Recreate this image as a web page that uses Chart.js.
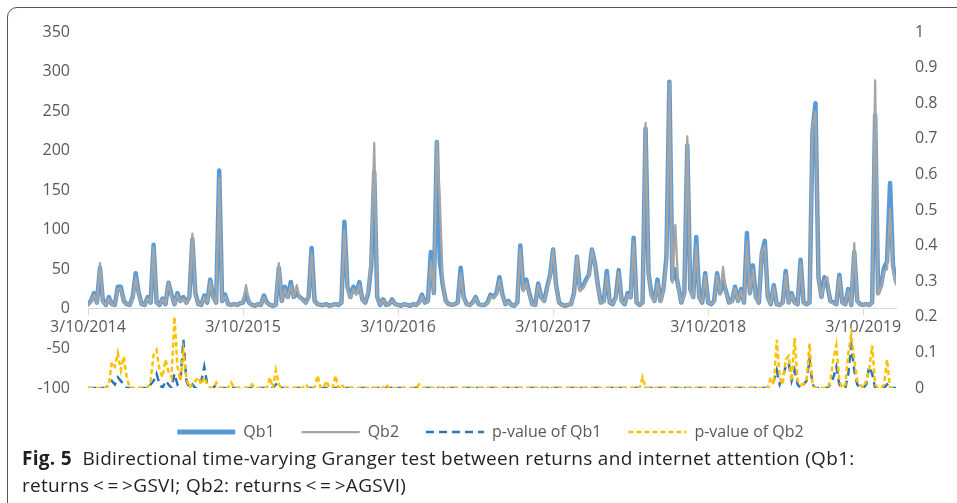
<!DOCTYPE html>
<html>
<head>
<meta charset="utf-8">
<script src="https://cdn.jsdelivr.net/npm/chart.js@4.4.1/dist/chart.umd.min.js"></script>
<style>
  html, body { margin: 0; padding: 0; background: #fff; }
  body { width: 957px; height: 503px; position: relative; overflow: hidden; }
  #frame { position: absolute; left: 7px; top: 7px; width: 1000px; height: 600px; border: 1px solid #555; border-top-left-radius: 10px; box-sizing: border-box; }
  #chart { position: absolute; left: 0; top: 0; }
  #caption { position: absolute; left: 22px; top: 445px; width: 930px; font: 19px/27px "Open Sans", "Noto Sans", sans-serif; letter-spacing: 0.3px; color: #231f20; white-space: nowrap; }
  #caption b { font-weight: 700; }
</style>
</head>
<body>
<div id="frame"></div>
<canvas id="chart" width="957" height="455"></canvas>
<div id="caption"><b>Fig. 5</b>&nbsp; Bidirectional time-varying Granger test between returns and internet attention (Qb1:<br>returns&thinsp;&lt;&thinsp;=&thinsp;&gt;GSVI; Qb2: returns&thinsp;&lt;&thinsp;=&thinsp;&gt;AGSVI)</div>
<script>
// weekly values, 3/10/2014 onwards
const qb1 = [
  6, 10, 20, 8, 52, 10, 5, 15, 6, 5, 28, 28, 10, 6, 5, 15, 45, 20, 6, 5,
  15, 8, 81, 8, 5, 13, 6, 33, 18, 6, 20, 10, 15, 8, 15, 88, 20, 6, 5, 17,
  8, 37, 15, 8, 175, 10, 18, 6, 5, 6, 5, 7, 8, 20, 8, 5, 4, 6, 5, 17,
  8, 5, 4, 5, 52, 10, 28, 15, 34, 15, 20, 15, 12, 8, 15, 77, 10, 6, 5, 5,
  6, 4, 5, 6, 5, 8, 110, 28, 15, 28, 20, 34, 12, 8, 20, 55, 173, 15, 5, 12,
  5, 6, 12, 6, 5, 4, 6, 5, 4, 6, 5, 8, 18, 8, 10, 72, 20, 211, 60, 30,
  10, 6, 5, 6, 8, 52, 15, 6, 5, 8, 15, 6, 5, 5, 8, 18, 15, 20, 40, 18,
  6, 10, 5, 4, 8, 80, 25, 37, 20, 6, 5, 32, 15, 10, 28, 43, 75, 30, 8, 5,
  4, 5, 6, 20, 66, 25, 28, 37, 43, 75, 58, 30, 8, 10, 48, 8, 6, 15, 49, 10,
  6, 20, 15, 90, 8, 5, 8, 228, 45, 18, 10, 37, 10, 25, 66, 287, 37, 50, 28, 8,
  20, 207, 25, 15, 91, 15, 8, 45, 8, 6, 10, 45, 20, 35, 22, 8, 10, 28, 10, 25,
  8, 96, 20, 55, 15, 8, 70, 86, 15, 6, 30, 6, 5, 8, 48, 8, 20, 8, 6, 62,
  8, 6, 8, 225, 260, 40, 15, 40, 30, 10, 8, 6, 43, 8, 6, 25, 5, 72, 10, 6,
  5, 6, 5, 8, 245, 20, 30, 52, 60, 159, 55, 35
];
const qb2 = [
  5, 9, 18, 7, 58, 9, 5, 13, 6, 5, 25, 26, 9, 6, 5, 13, 40, 18, 6, 5,
  13, 8, 78, 7, 5, 12, 6, 33, 16, 6, 18, 9, 13, 7, 14, 95, 18, 6, 5, 15,
  8, 35, 14, 7, 165, 10, 16, 6, 5, 6, 5, 7, 8, 30, 8, 5, 4, 6, 5, 15,
  7, 5, 4, 5, 58, 9, 25, 14, 30, 14, 30, 14, 11, 7, 14, 70, 9, 6, 5, 5,
  6, 4, 5, 6, 5, 8, 100, 25, 14, 25, 18, 30, 11, 8, 22, 62, 210, 14, 5, 11,
  5, 6, 11, 6, 5, 4, 6, 5, 4, 6, 5, 7, 16, 8, 9, 60, 20, 211, 137, 35,
  9, 6, 5, 6, 7, 45, 13, 6, 5, 7, 14, 6, 5, 5, 7, 16, 14, 18, 36, 16,
  6, 9, 5, 4, 7, 75, 22, 33, 18, 6, 5, 30, 14, 9, 26, 40, 75, 28, 7, 5,
  4, 5, 6, 18, 66, 22, 26, 33, 40, 75, 55, 28, 8, 9, 42, 8, 6, 13, 46, 9,
  6, 18, 13, 85, 8, 5, 8, 235, 42, 16, 9, 33, 9, 22, 60, 285, 33, 106, 25, 8,
  18, 218, 22, 14, 80, 14, 8, 42, 8, 6, 9, 42, 18, 53, 20, 8, 9, 26, 9, 23,
  8, 85, 18, 50, 14, 8, 72, 80, 14, 6, 28, 6, 5, 7, 44, 7, 18, 7, 6, 58,
  7, 6, 8, 230, 250, 38, 14, 35, 40, 9, 7, 6, 40, 7, 6, 23, 5, 83, 9, 6,
  5, 6, 5, 8, 289, 18, 28, 48, 50, 126, 50, 30
];
const pQb1 = [
  0, 0, 0, 0, 0, 0, 0, 0.01, 0.02, 0.01, 0.03, 0.02, 0.01, 0, 0, 0, 0, 0, 0, 0,
  0, 0.01, 0.02, 0.04, 0.01, 0, 0.02, 0.01, 0, 0.04, 0.01, 0.02, 0.135, 0.02, 0, 0.01, 0, 0.01, 0.02, 0.06,
  0.01, 0, 0, 0.01, 0, 0, 0, 0, 0, 0, 0, 0, 0, 0, 0, 0, 0, 0, 0, 0,
  0, 0, 0, 0.01, 0, 0, 0, 0, 0, 0, 0, 0, 0, 0, 0, 0, 0, 0, 0, 0,
  0, 0, 0, 0, 0, 0, 0, 0, 0, 0, 0, 0, 0, 0, 0, 0, 0, 0, 0, 0,
  0, 0, 0, 0, 0, 0, 0, 0, 0, 0, 0, 0, 0, 0, 0, 0, 0, 0, 0, 0,
  0, 0, 0, 0, 0, 0, 0, 0, 0, 0, 0, 0, 0, 0, 0, 0, 0, 0, 0, 0,
  0, 0, 0, 0, 0, 0, 0, 0, 0, 0, 0, 0, 0, 0, 0, 0, 0, 0, 0, 0,
  0, 0, 0, 0, 0, 0, 0, 0, 0, 0, 0, 0, 0, 0, 0, 0, 0, 0, 0, 0,
  0, 0, 0, 0, 0, 0, 0, 0, 0, 0, 0, 0, 0, 0, 0, 0, 0, 0, 0, 0,
  0, 0, 0, 0, 0, 0, 0, 0, 0, 0, 0, 0, 0, 0, 0, 0, 0, 0, 0, 0,
  0, 0, 0, 0, 0, 0, 0, 0, 0, 0.01, 0.02, 0.05, 0.01, 0.03, 0.06, 0.07, 0.02, 0.05, 0.01, 0,
  0.01, 0.02, 0.08, 0.01, 0, 0, 0, 0, 0, 0.01, 0.03, 0.06, 0.01, 0, 0, 0.04, 0.12, 0.05, 0.01, 0,
  0, 0.01, 0.06, 0.04, 0, 0, 0, 0, 0.01, 0, 0, 0
];
const pQb2 = [
  0, 0, 0, 0, 0, 0, 0, 0.01, 0.073, 0.06, 0.098, 0.05, 0.088, 0.03, 0, 0, 0, 0, 0, 0,
  0, 0.02, 0.093, 0.107, 0.05, 0.03, 0.08, 0.045, 0.03, 0.2, 0.06, 0.02, 0.1, 0.03, 0, 0.01, 0.02, 0.03, 0.01, 0.03,
  0.01, 0, 0, 0.015, 0, 0, 0, 0, 0.015, 0, 0, 0, 0, 0, 0, 0.01, 0, 0, 0, 0,
  0, 0.03, 0, 0.05, 0.01, 0, 0, 0, 0, 0, 0, 0, 0, 0.01, 0, 0, 0, 0.035, 0, 0,
  0.02, 0, 0, 0.035, 0, 0.01, 0, 0, 0, 0, 0, 0, 0, 0, 0, 0, 0, 0, 0, 0,
  0.01, 0, 0, 0, 0, 0, 0, 0, 0, 0, 0, 0.01, 0, 0, 0, 0, 0, 0, 0, 0,
  0, 0, 0, 0, 0, 0, 0, 0, 0, 0, 0, 0, 0, 0, 0, 0, 0, 0, 0, 0,
  0, 0, 0, 0, 0, 0, 0, 0, 0, 0, 0, 0, 0, 0, 0, 0, 0, 0, 0, 0,
  0, 0, 0, 0, 0, 0, 0, 0, 0, 0, 0, 0, 0, 0, 0, 0, 0, 0, 0, 0,
  0, 0, 0, 0, 0, 0, 0.03, 0, 0, 0, 0, 0, 0, 0, 0, 0, 0, 0, 0, 0,
  0, 0, 0, 0, 0, 0, 0, 0, 0, 0, 0, 0, 0, 0, 0, 0, 0, 0, 0, 0,
  0, 0, 0, 0, 0, 0, 0, 0, 0, 0.03, 0.01, 0.135, 0.03, 0.01, 0.08, 0.09, 0.02, 0.14, 0.02, 0.01,
  0.01, 0.02, 0.125, 0.01, 0, 0, 0, 0, 0, 0.02, 0.08, 0.12, 0.02, 0, 0.01, 0.098, 0.15, 0.08, 0.02, 0.01,
  0, 0.02, 0.05, 0.12, 0.01, 0, 0, 0.01, 0.08, 0, 0, 0
];
const xTickWeeks = [0, 52, 104, 156, 208, 260];
const xTickLabels = ["3/10/2014", "3/10/2015", "3/10/2016", "3/10/2017", "3/10/2018", "3/10/2019"];

const axisFont = { family: "'Open Sans', sans-serif", size: 16 };
const axisColor = "#595959";
const weekIndex = qb1.map((v, i) => i);

// legend samples: take dash / width straight from the dataset
function legendLabels(chart) {
  const items = Chart.defaults.plugins.legend.labels.generateLabels(chart);
  items.forEach(it => {
    const ds = chart.data.datasets[it.datasetIndex];
    it.lineDash = ds.borderDash || [];
    it.lineWidth = it.datasetIndex === 0 ? 5 : ds.borderWidth;
    it.strokeStyle = ds.borderColor;
    it.lineCap = "butt";
  });
  return items;
}

const ctx = document.getElementById("chart").getContext("2d");
new Chart(ctx, {
  type: "line",
  data: {
    labels: weekIndex,
    datasets: [
      { label: "Qb1", data: qb1, yAxisID: "y", borderColor: "#5B9BD5", backgroundColor: "#5B9BD5",
        borderWidth: 4.5, pointRadius: 0, borderJoinStyle: "round", borderCapStyle: "round", order: 4 },
      { label: "Qb2", data: qb2, yAxisID: "y", borderColor: "#A5A5A5", backgroundColor: "#A5A5A5",
        borderWidth: 2.25, pointRadius: 0, borderJoinStyle: "round", order: 3 },
      { label: "p-value of Qb1", data: pQb1, yAxisID: "y1", borderColor: "#2E75B6", backgroundColor: "#2E75B6",
        borderWidth: 2.5, borderDash: [8, 5], pointRadius: 0, order: 2 },
      { label: "p-value of Qb2", data: pQb2, yAxisID: "y1", borderColor: "#FFC000", backgroundColor: "#FFC000",
        borderWidth: 2.5, borderDash: [5, 3], pointRadius: 0, order: 1 }
    ]
  },
  options: {
    animation: false,
    responsive: false,
    layout: { padding: { top: 32, bottom: 5, left: 24, right: 0 } },
    plugins: {
      tooltip: { enabled: false },
      legend: {
        position: "bottom",
        title: { display: true, text: " ", font: { size: 7.5 }, padding: 0 },
        labels: {
          usePointStyle: true,
          pointStyle: "line",
          pointStyleWidth: 58,
          padding: 27,
          color: axisColor,
          font: axisFont,
          generateLabels: legendLabels,
          sort: (a, b) => a.datasetIndex - b.datasetIndex
        }
      }
    },
    scales: {
      x: {
        type: "linear",
        min: 0,
        max: weekIndex.length - 1,
        position: { y: 0 },
        afterBuildTicks: s => { s.ticks = xTickWeeks.map(v => ({ value: v })); },
        ticks: {
          callback: v => xTickLabels[xTickWeeks.indexOf(v)],
          color: axisColor, font: axisFont, maxRotation: 0, autoSkip: false, padding: 3
        },
        grid: { drawOnChartArea: false, drawTicks: true, tickLength: 6, color: "#D9D9D9" },
        border: { color: "#D9D9D9" }
      },
      y: {
        position: "left",
        min: -100, max: 350,
        ticks: { stepSize: 50, padding: 18, color: axisColor, font: axisFont },
        grid: { display: false, drawTicks: false },
        border: { display: false },
        afterFit: s => { s.width = 64; }
      },
      y1: {
        position: "right",
        min: 0, max: 1,
        ticks: { stepSize: 0.1, padding: 19, color: axisColor, font: axisFont,
          callback: v => String(Number(v.toFixed(1))) },
        grid: { display: false, drawTicks: false },
        border: { display: false },
        afterFit: s => { s.width = 61; }
      }
    }
  }
});
</script>
</body>
</html>
